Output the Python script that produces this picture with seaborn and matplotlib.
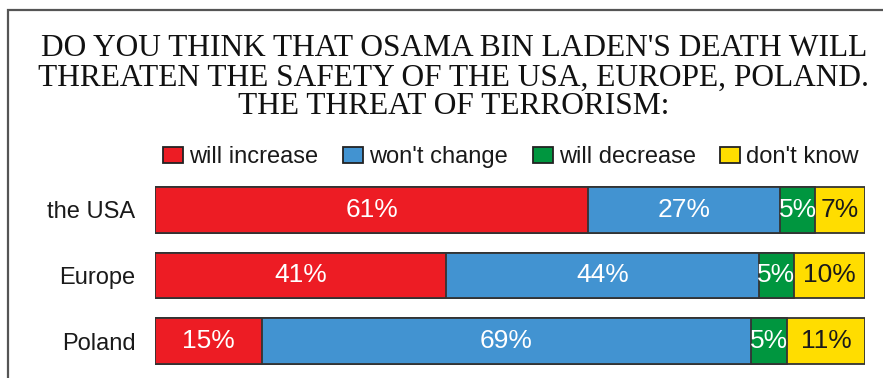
import matplotlib
matplotlib.use("Agg")
import matplotlib.pyplot as plt
import seaborn as sns
import pandas as pd
import numpy as np
from matplotlib.patches import Patch, Rectangle

categories = ["the USA", "Europe", "Poland"]
series_names = ["will increase", "won't change", "will decrease", "don't know"]
will_increase = [61, 41, 15]
wont_change = [27, 44, 69]
will_decrease = [5, 5, 5]
dont_know = [7, 10, 11]
colors = ["#ED1C24", "#4293D1", "#00963F", "#FFDD00"]
label_colors = ["white", "white", "white", "#1a1a1a"]
title_lines = ["DO YOU THINK THAT OSAMA BIN LADEN'S DEATH WILL",
               "THREATEN THE SAFETY OF THE USA, EUROPE, POLAND.",
               "THE THREAT OF TERRORISM:"]

sns.set_theme(style="white")
plt.rcParams["font.family"] = ["Liberation Sans", "DejaVu Sans"]

W, H = 883, 378
fig = plt.figure(figsize=(W / 100, H / 100), dpi=100)
fig.patch.set_facecolor("white")

ax_left, ax_right = 155 / W, 865 / W
ax_top, ax_bot = 177 / H, 374 / H
ax = fig.add_axes([ax_left, 1 - ax_bot, ax_right - ax_left, ax_bot - ax_top])

values = [will_increase, wont_change, will_decrease, dont_know]
cum = np.cumsum(np.array(values), axis=0)
df = pd.DataFrame({"category": categories})
for i, name in enumerate(series_names):
    df[name] = cum[i]

# draw from the outermost cumulative sum inwards
for i in reversed(range(len(series_names))):
    sns.barplot(data=df, x=series_names[i], y="category", orient="h",
                color=colors[i], saturation=1, width=0.70,
                edgecolor="#333333", linewidth=1.3, ax=ax)

# labels
for i in range(len(series_names)):
    for j in range(len(categories)):
        v = values[i][j]
        center = cum[i][j] - v / 2
        ax.text(center, j, f"{v}%", ha="center", va="center",
                color=label_colors[i], fontsize=19)

ax.set_xlim(0, 100)
ax.set_ylim(2.5, -0.5)
ax.set_xlabel("")
ax.set_ylabel("")
ax.set_xticks([])
ax.tick_params(axis="y", length=0, pad=14, labelsize=17, labelcolor="#1a1a1a")
for s in ax.spines.values():
    s.set_visible(False)

# legend
handles = [Patch(facecolor=c, edgecolor="#222222", linewidth=1.3) for c in colors]
fig.legend(handles, series_names, loc="center", bbox_to_anchor=(511 / W, 1 - 157 / H),
           ncol=4, frameon=False, fontsize=17, handlelength=0.85, handleheight=0.64,
           handletextpad=0.25, columnspacing=1.05, borderaxespad=0, borderpad=0,
           labelcolor="#1a1a1a")

# title
ys = [49, 78, 107]
for line, y in zip(title_lines, ys):
    fig.text(454 / W, 1 - y / H, line, ha="center", va="center",
             family=["Liberation Serif", "DejaVu Serif"], fontsize=22.6, color="#111111")

# frame
fig.add_artist(Rectangle((8 / W, -0.5), 2, 1 - 10 / H + 0.5, transform=fig.transFigure,
                         fill=False, edgecolor="#555555", linewidth=1.6))

fig.savefig("out.png", dpi=100, facecolor="white")
